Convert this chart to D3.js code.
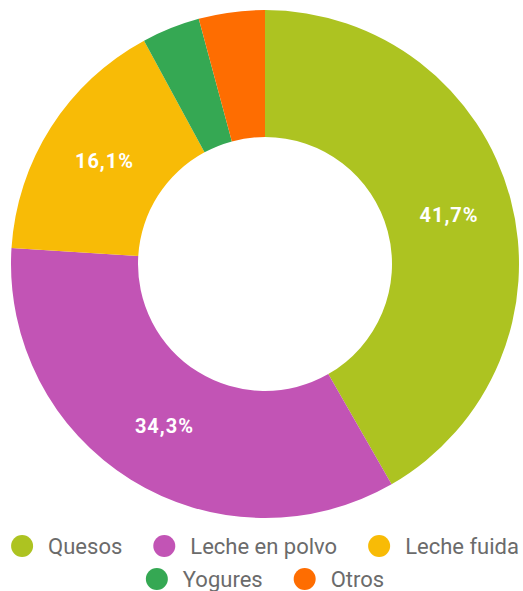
<!DOCTYPE html>
<html><head><meta charset="utf-8">
<script src="https://cdn.jsdelivr.net/npm/d3@7"></script>
<style>body{margin:0;background:#fff;}svg{display:block;}</style>
</head><body>
<svg id="c" width="523" height="591"></svg>
<script>
const categories = ["Quesos","Leche en polvo","Leche fuida","Yogures","Otros"];
const values = [41.7,34.3,16.1,3.7,4.2];
const labels = ["41,7%","34,3%","16,1%","",""];
const colors = ["#adc321","#c254b5","#f8bb06","#35a853","#fe6d01"];

const svg = d3.select("#c");
const cx = 265, cy = 264, R = 254, r = 127;
const pie = d3.pie().sort(null).value(d=>d)(values);
const arc = d3.arc().innerRadius(r).outerRadius(R);
const g = svg.append("g").attr("transform",`translate(${cx},${cy})`);
g.selectAll("path").data(pie).join("path").attr("d",arc).attr("fill",(d,i)=>colors[i]);
const larc = d3.arc().innerRadius((R+r)/2).outerRadius((R+r)/2);
g.selectAll("text").data(pie).join("text")
  .attr("transform",d=>`translate(${larc.centroid(d)})`)
  .attr("text-anchor","middle").attr("dy","0.35em")
  .attr("fill","#fff").attr("font-family","Roboto").attr("font-weight","bold")
  .attr("font-size",20).attr("letter-spacing","1px")
  .text((d,i)=>labels[i]);

// legend
const rows = [[0,1,2],[3,4]];
const fs = 22;
rows.forEach((row,ri)=>{
  const y = 546 + ri*33;
  const items = row.map(i=>{
    const t = svg.append("text").attr("font-family","Roboto").attr("font-size",fs).text(categories[i]);
    const w = t.node().getComputedTextLength(); t.remove();
    return {i,w:37+w};
  });
  const gap = 31;
  const total = d3.sum(items,d=>d.w)+gap*(items.length-1);
  let x = cx - total/2;
  items.forEach(it=>{
    svg.append("circle").attr("cx",x+11).attr("cy",y).attr("r",11).attr("fill",colors[it.i]);
    svg.append("text").attr("x",x+37).attr("y",y).attr("dy","0.35em")
      .attr("font-family","Roboto").attr("font-size",fs).attr("fill","#6b6b6b").text(categories[it.i]);
    x += it.w + gap;
  });
});
</script>
</body></html>
